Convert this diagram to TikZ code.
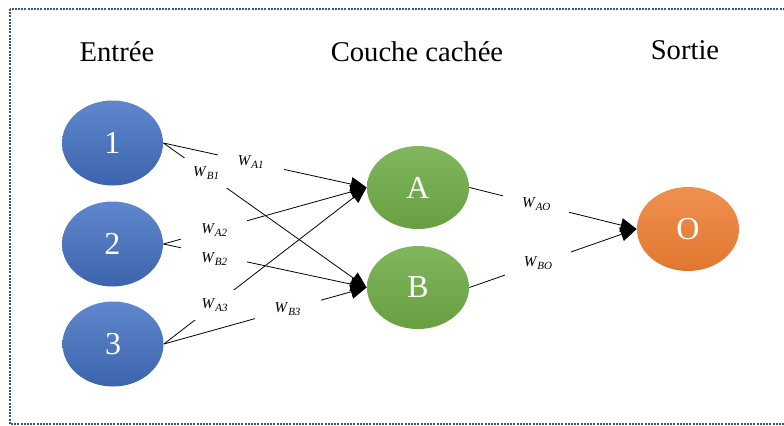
\documentclass[tikz,border=0pt]{standalone}
\usepackage{fontspec}
\setmainfont{Liberation Serif}
\usepackage{tikz}
\usetikzlibrary{arrows.meta,shapes.geometric}
\definecolor{inblue}{HTML}{4472C4}
\definecolor{hidgreen}{HTML}{70AD47}
\definecolor{outorange}{HTML}{ED7D31}
\definecolor{framedot}{HTML}{2F5597}
\newcommand{\wlab}[1]{\textit{W}\raisebox{-0.2em}{\fontsize{5.5}{6}\selectfont\textit{#1}}}

\begin{document}
\begin{tikzpicture}[
  x=0.5pt,
  y=-0.5pt,
  neuron/.style={ellipse, inner sep=0pt, text=white,
    font=\fontsize{16}{18}\selectfont},
  inneuron/.style={neuron, top color=inblue!85!white, bottom color=inblue!88!black,
    minimum width=50.5pt, minimum height=42.5pt},
  hidneuron/.style={neuron, top color=hidgreen!88!white, bottom color=hidgreen!92!black,
    minimum width=51pt, minimum height=41.5pt},
  outneuron/.style={neuron, top color=outorange!85!white, bottom color=outorange!95!black,
    minimum width=51pt, minimum height=42pt},
  title/.style={font=\fontsize{14.3}{16}\selectfont},
  wlabel/.style={fill=white, font=\fontsize{7.5}{9}\selectfont,
    minimum width=33pt, minimum height=15pt, inner sep=0pt},
  weight/.style={-{Triangle[length=8pt,width=7pt]}, line width=0.4pt, black}
]
\useasboundingbox (0,0) rectangle (784,425);

% Dotted frame
\draw[framedot, line width=1pt, dash pattern=on 1pt off 0.6pt]
  (10,9) rectangle (800,424);

% Layer titles
\node[title] (tin) at (117,52) {Entrée};
\node[title] (thid) at (417,52) {Couche cachée};
\node[title] (tout) at (685,50) {Sortie};

% Neurons
\node[inneuron] (n1) at (112.5,143) {1};
\node[inneuron] (n2) at (112.5,244) {2};
\node[inneuron] (n3) at (113,344) {3};
\node[hidneuron] (A) at (418,187.5) {A};
\node[hidneuron] (B) at (418,287.5) {B};
\node[outneuron] (O) at (688,229) {O};

% Weighted connections, input to hidden
\draw[weight] (n1.east) -- node[wlabel, pos=0.43] {\wlab{A1}} (A.west);
\draw[weight] (n1.east) -- node[wlabel, pos=0.21] {\wlab{B1}} (B.west);
\draw[weight] (n2.east) -- node[wlabel, pos=0.25] {\wlab{A2}} (A.west);
\draw[weight] (n2.east) -- node[wlabel, pos=0.25, yshift=-2pt] {\wlab{B2}} (B.west);
\draw[weight] (n3.east) -- node[wlabel, pos=0.25] {\wlab{A3}} (A.west);
\draw[weight] (n3.east) -- node[wlabel, pos=0.61] {\wlab{B3}} (B.west);

% Hidden to output
\draw[weight] (A.east) -- node[wlabel, pos=0.4] {\wlab{AO}} (O.west);
\draw[weight] (B.east) -- node[wlabel, pos=0.41] {\wlab{BO}} (O.west);
\end{tikzpicture}
\end{document}
